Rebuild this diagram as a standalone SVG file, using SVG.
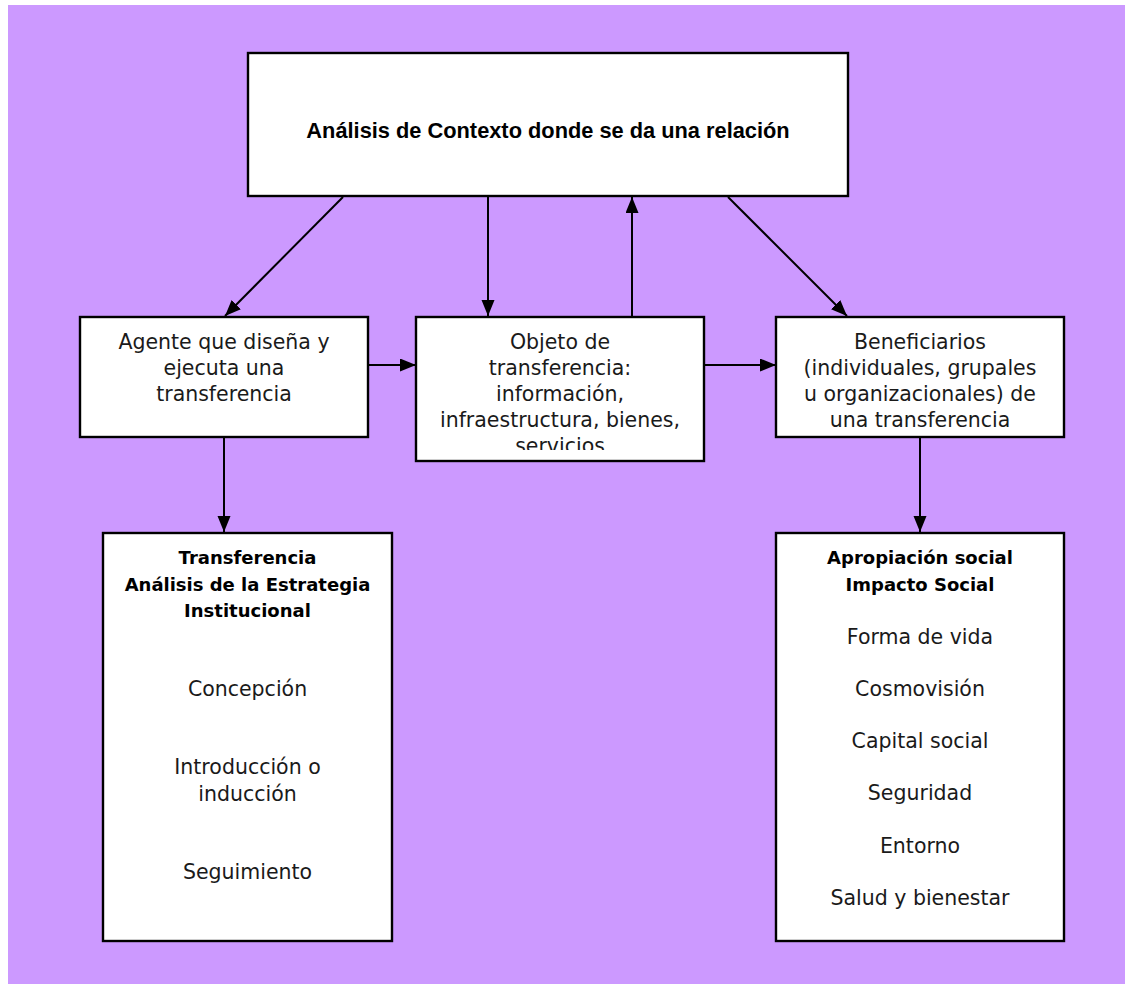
<svg xmlns="http://www.w3.org/2000/svg" width="1125" height="984" viewBox="0 0 1125 984">
<style>
.box{fill:#ffffff;stroke:#000000;stroke-width:2.4}
.ln{stroke:#000000;stroke-width:2;fill:none;marker-end:url(#ah)}
.t{font-family:"DejaVu Sans","Liberation Sans",sans-serif;font-size:20.5px;fill:#1a1a1a;text-anchor:middle}
.h{font-family:"DejaVu Sans","Liberation Sans",sans-serif;font-size:18px;font-weight:bold;fill:#000000;text-anchor:middle}
.top{font-family:"Liberation Sans",Arial,sans-serif;font-size:21.8px;font-weight:bold;fill:#000000;text-anchor:middle}
</style>
<defs>
<marker id="ah" markerUnits="userSpaceOnUse" markerWidth="17" markerHeight="14" refX="16" refY="6.5" orient="auto">
<path d="M0,0 L16,6.5 L0,13 Z" fill="#000000"/>
</marker>
<clipPath id="clipObj"><rect x="416" y="317" width="288" height="133"/></clipPath>
<clipPath id="clipBen"><rect x="776" y="317" width="288" height="110"/></clipPath>
</defs>
<rect x="8" y="5" width="1117" height="979" fill="#CC99FF"/>
<g id="connectors">
<line class="ln" x1="343" y1="197" x2="225" y2="316"/>
<line class="ln" x1="488" y1="197" x2="488" y2="316"/>
<line class="ln" x1="632" y1="317" x2="632" y2="197"/>
<line class="ln" x1="728" y1="197" x2="847" y2="316"/>
<line class="ln" x1="368" y1="365" x2="416" y2="365"/>
<line class="ln" x1="704" y1="365" x2="776" y2="365"/>
<line class="ln" x1="224" y1="437" x2="224" y2="532"/>
<line class="ln" x1="920" y1="437" x2="920" y2="532"/>
</g>
<g id="node-contexto">
<rect class="box" x="248" y="53" width="600" height="143"/>
<text class="top" x="548" y="138">Análisis de Contexto donde se da una relación</text>
</g>
<g id="node-agente">
<rect class="box" x="80" y="317" width="288" height="120"/>
<text class="t" x="224" y="349">Agente que diseña y</text>
<text class="t" x="224" y="375">ejecuta una</text>
<text class="t" x="224" y="401">transferencia</text>
</g>
<g id="node-objeto">
<rect class="box" x="416" y="317" width="288" height="144"/>
<g clip-path="url(#clipObj)">
<text class="t" x="560" y="349">Objeto de</text>
<text class="t" x="560" y="375">transferencia:</text>
<text class="t" x="560" y="401">información,</text>
<text class="t" x="560" y="427">infraestructura, bienes,</text>
<text class="t" x="560" y="453">servicios</text>
</g>
</g>
<g id="node-beneficiarios">
<rect class="box" x="776" y="317" width="288" height="120"/>
<g clip-path="url(#clipBen)">
<text class="t" x="920" y="349">Beneficiarios</text>
<text class="t" x="920" y="375">(individuales, grupales</text>
<text class="t" x="920" y="401">u organizacionales) de</text>
<text class="t" x="920" y="427">una transferencia</text>
</g>
</g>
<g id="node-transferencia">
<rect class="box" x="103" y="533" width="289" height="408"/>
<text class="h" x="247.5" y="564">Transferencia</text>
<text class="h" x="247.5" y="591">Análisis de la Estrategia</text>
<text class="h" x="247.5" y="617">Institucional</text>
<text class="t" x="247.5" y="696">Concepción</text>
<text class="t" x="247.5" y="774">Introducción o</text>
<text class="t" x="247.5" y="801">inducción</text>
<text class="t" x="247.5" y="879">Seguimiento</text>
</g>
<g id="node-apropiacion">
<rect class="box" x="776" y="533" width="288" height="408"/>
<text class="h" x="920" y="564">Apropiación social</text>
<text class="h" x="920" y="591">Impacto Social</text>
<text class="t" x="920" y="644">Forma de vida</text>
<text class="t" x="920" y="696">Cosmovisión</text>
<text class="t" x="920" y="748">Capital social</text>
<text class="t" x="920" y="800">Seguridad</text>
<text class="t" x="920" y="853">Entorno</text>
<text class="t" x="920" y="905">Salud y bienestar</text>
</g>
</svg>
